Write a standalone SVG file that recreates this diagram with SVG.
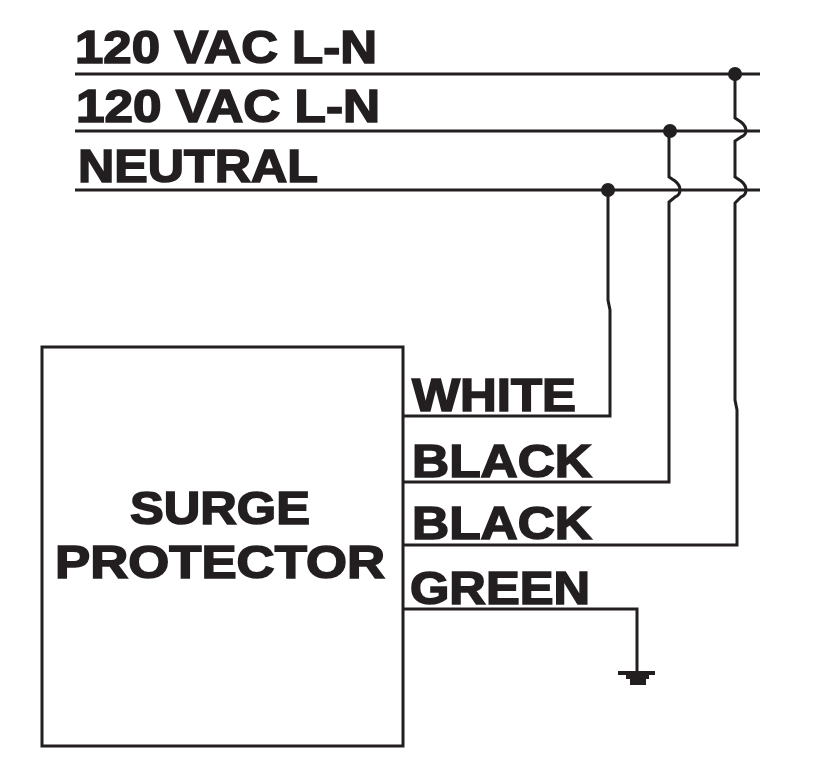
<svg xmlns="http://www.w3.org/2000/svg" width="830" height="760" viewBox="0 0 830 760">
<style>
.w{fill:none;stroke:#231f20;stroke-width:3;stroke-linejoin:miter}
.t{font-family:"Liberation Sans",Arial,sans-serif;font-weight:bold;font-size:46px;fill:#231f20;stroke:#231f20;stroke-width:1.6}
.d{fill:#231f20}
</style>
<rect width="830" height="760" fill="#fff"/>
<g id="connectors">
<path class="w" d="M75 74H760"/>
<path class="w" d="M75 131H760"/>
<path class="w" d="M75 190H760"/>
<path class="w" d="M735 74V118L741 122Q746 126 746 131Q746 135 741 137L735 141V177L741 181Q746 185 746 190Q746 195 741 197L735 203V400L737 410V545H402"/>
<path class="w" d="M669 131V177L675 181Q680 185 680 190Q680 195 675 197L669 202V482H402"/>
<path class="w" d="M608 190V300L610 310V416H402"/>
<path class="w" d="M402 609H637V672"/>
<path class="d" d="M618 671H655V675H649V679H646V685H630V679H626V675H618Z"/>
<circle class="d" cx="735" cy="74" r="7"/>
<circle class="d" cx="670" cy="131" r="7"/>
<circle class="d" cx="608" cy="190" r="7"/>
</g>
<g id="surge-protector">
<rect class="w" x="42" y="347" width="361" height="399"/>
<text class="t" x="130" y="524" textLength="180" lengthAdjust="spacingAndGlyphs">SURGE</text>
<text class="t" x="55" y="578" textLength="330" lengthAdjust="spacingAndGlyphs">PROTECTOR</text>
</g>
<g id="labels">
<text class="t" x="75" y="63" textLength="302" lengthAdjust="spacingAndGlyphs">120 VAC L-N</text>
<text class="t" x="76" y="122" textLength="304" lengthAdjust="spacingAndGlyphs">120 VAC L-N</text>
<text class="t" x="78" y="182" textLength="240" lengthAdjust="spacingAndGlyphs">NEUTRAL</text>
<text class="t" x="412" y="411" textLength="164" lengthAdjust="spacingAndGlyphs">WHITE</text>
<text class="t" x="412" y="477" textLength="180" lengthAdjust="spacingAndGlyphs">BLACK</text>
<text class="t" x="412" y="539" textLength="180" lengthAdjust="spacingAndGlyphs">BLACK</text>
<text class="t" x="410" y="604" textLength="180" lengthAdjust="spacingAndGlyphs">GREEN</text>
</g>
</svg>
